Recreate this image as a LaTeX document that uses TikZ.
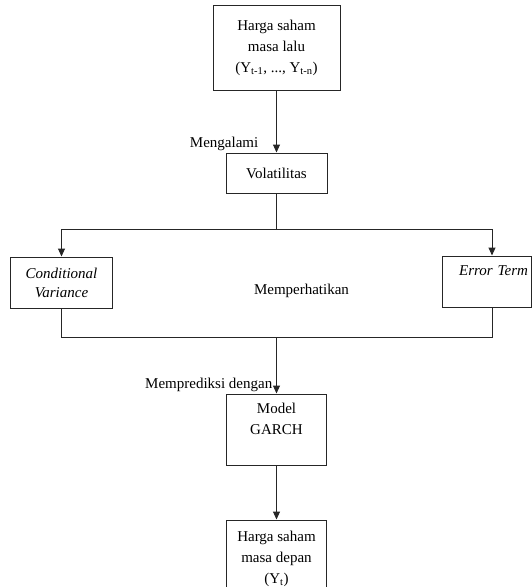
\documentclass[tikz,border=0pt]{standalone}
\usepackage{fontspec}
\setmainfont{Liberation Serif}
\usepackage{tikz}
\usetikzlibrary{arrows.meta,positioning,calc}

\newcommand{\chartfont}{\fontsize{15}{21}\selectfont}

\begin{document}
\begin{tikzpicture}[
    x=1pt, y=1pt,
    node distance=60pt,
    font=\chartfont,
    stage/.style={rectangle, draw=black!85, line width=1pt, inner sep=3pt, align=center},
    tag/.style={inner sep=2pt},
    arrow/.style={line width=1pt, draw=black!85, -{Triangle[length=8pt,width=7pt]}},
    link/.style={line width=1pt, draw=black!85}
]
\useasboundingbox (0,0) rectangle (532,-587);

% --- MAIN COLUMN ---
\node (past) [stage, minimum width=127pt, minimum height=85pt] at (276.5,-47.5) {Harga saham\\masa lalu\\(Y\textsubscript{t-1}, ..., Y\textsubscript{t-n})};
\node (vol)  [stage, below=62pt of past, minimum width=101pt, minimum height=40pt] {Volatilitas};
\coordinate [below=36pt of vol] (split);

% --- SIDE BOXES ---
\node (condvar) [stage, font=\fontsize{15}{19}\selectfont\itshape, minimum width=102pt, minimum height=51pt] at (61.5,-282.5) {Conditional\\Variance};
\node (errterm) [stage, font=\chartfont\itshape, text width=83pt, align=right, minimum height=51pt, text height=15pt, text depth=28pt] at (486.5,-281.5) {Error Term};
\coordinate [below=108pt of split] (merge);
\node (attend) [xshift=25pt, yshift=-7pt] at ($(split)!0.5!(merge)$) {Memperhatikan};

% --- MODEL AND OUTPUT ---
\node (garch)  [stage, below=56pt of merge, minimum width=100pt, minimum height=71pt] {Model\\GARCH\\~};
\node (future) [stage, below=54pt of garch, minimum width=100pt, minimum height=78pt] {Harga saham\\masa depan\\(Y\textsubscript{t})};

% --- LABELS ---
\node (lblvol)   [tag, above left=0pt and 16pt of vol.north] {Mengalami};
\node (lblgarch) [tag, above left=0pt and 2pt of garch.north] {Memprediksi dengan};

% --- PATHS ---
\draw [arrow] (past) -- (vol);
\draw [link] (vol) -- (split);
\draw [arrow] (split) -| (condvar.north);
\draw [arrow] (split) -| ([xshift=5.5pt]errterm.north);
\draw [link] (condvar.south) |- (merge) -| ([xshift=5.5pt]errterm.south);
\draw [arrow] (merge) -- (garch);
\draw [arrow] (garch) -- (future);

\end{tikzpicture}
\end{document}
